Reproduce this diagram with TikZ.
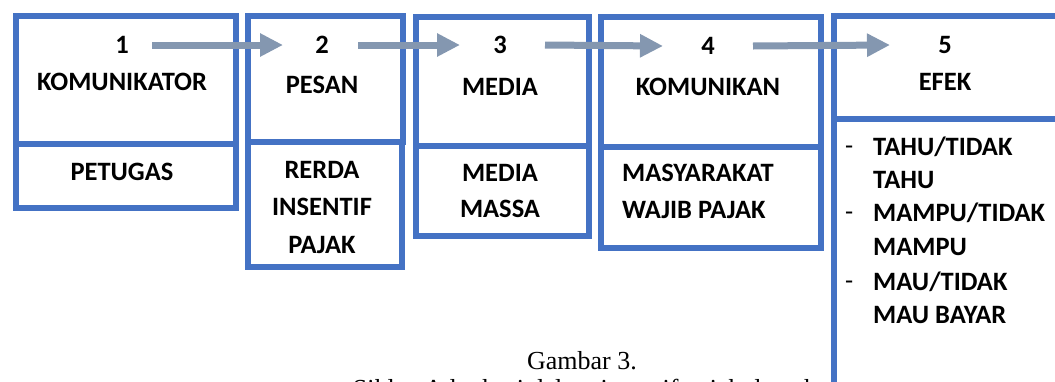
\documentclass[tikz,border=0pt]{standalone}
\usepackage{fontspec}
\setmainfont{Carlito}
\newfontfamily\capfont{Liberation Serif}
\usetikzlibrary{arrows.meta}
\definecolor{boxblue}{HTML}{4472C4}
\definecolor{arrgray}{HTML}{8497B0}
\tikzset{
  box/.style={draw=boxblue, line width=6pt, anchor=north west, inner sep=0pt},
  lbl/.style={font=\fontsize{26.5}{30}\bfseries\selectfont, inner sep=0pt, anchor=center},
  lst/.style={font=\fontsize{26.5}{30}\bfseries\selectfont, inner sep=0pt, anchor=west},
  dsh/.style={font=\fontsize{26.5}{30}\selectfont, inner sep=0pt, anchor=west},
  arr/.style={draw=arrgray, line width=7pt, -{Triangle[length=23pt,width=22pt]}},
  captxt/.style={font=\capfont\fontsize{26}{30}\selectfont, inner sep=0pt, anchor=base}
}
\begin{document}
\begin{tikzpicture}[x=1pt,y=-1pt]
\useasboundingbox (0,0) rectangle (1055,381);
% boxes
\node[box, minimum width=220pt, minimum height=128pt] (b1t) at (13,13) {};
\node[box, minimum width=220pt, minimum height=64pt] (b1b) at (13,141) {};
\node[box, minimum width=155pt, minimum height=126pt] (b2t) at (245,13) {};
\node[box, minimum width=154pt, minimum height=125pt] (b2b) at (245,139) {};
\node[box, minimum width=173pt, minimum height=129pt] (b3t) at (413,14) {};
\node[box, minimum width=173pt, minimum height=90pt] (b3b) at (413,143) {};
\node[box, minimum width=220pt, minimum height=130pt] (b4t) at (598,14) {};
\node[box, minimum width=220pt, minimum height=101pt] (b4b) at (598,144) {};
\node[box, minimum width=250pt, minimum height=103pt] (b5t) at (831,13) {};
\node[box, minimum width=250pt, minimum height=290pt] (b5b) at (831,116) {};
% numbers
\node[lbl] (n1) at (122,45) {1};
\node[lbl] (n2) at (322,45) {2};
\node[lbl] (n3) at (500,45) {3};
\node[lbl] (n4) at (708,46) {4};
\node[lbl] (n5) at (945,45) {5};
% titles
\node[lbl] (t1) at (122,82) {KOMUNIKATOR};
\node[lbl] (t2) at (322,85) {PESAN};
\node[lbl] (t3) at (500,87) {MEDIA};
\node[lbl] (t4) at (708,87) {KOMUNIKAN};
\node[lbl] (t5) at (945,82) {EFEK};
% lower texts
\node[lbl] (l1) at (122,172) {PETUGAS};
\node[lbl] (l2a) at (322,170) {RERDA};
\node[lbl] (l2b) at (322,207) {INSENTIF};
\node[lbl] (l2c) at (322,245) {PAJAK};
\node[lbl] (l3a) at (500,173) {MEDIA};
\node[lbl] (l3b) at (500,209) {MASSA};
\node[lst] (l4a) at (622,173) {MASYARAKAT};
\node[lst] (l4b) at (622,210) {WAJIB PAJAK};
% list
\node[dsh] (d1) at (845,150) {-};
\node[dsh] (d2) at (845,216) {-};
\node[dsh] (d3) at (845,285) {-};
\node[lst] (e1) at (873,147) {TAHU/TIDAK};
\node[lst] (e2) at (873,180) {TAHU};
\node[lst] (e3) at (873,213) {MAMPU/TIDAK};
\node[lst] (e4) at (873,247) {MAMPU};
\node[lst] (e5) at (873,282) {MAU/TIDAK};
\node[lst] (e6) at (873,315) {MAU BAYAR};
% arrows
\draw[arr] ([xshift=30pt]n1.center) -- ([xshift=-39pt]n2.center);
\draw[arr] ([xshift=36pt]n2.center) -- ([xshift=-40pt]n3.center);
\draw[arr] ([xshift=45pt]n3.center) -- ([xshift=-45pt]n4.center);
\draw[arr] ([xshift=45pt]n4.center) -- ([xshift=-55pt]n5.center);
% caption
\node[captxt] (c1) at (582,369) {Gambar 3.};
\node[captxt] (c2) at (585,397) {Siklus Advokasi dalam insentif pajak daerah};
\end{tikzpicture}
\end{document}
